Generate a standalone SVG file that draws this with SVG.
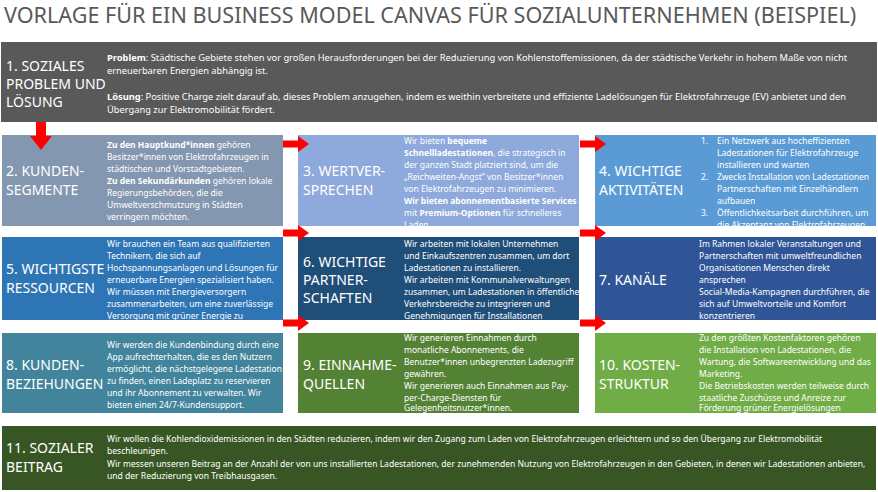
<svg xmlns="http://www.w3.org/2000/svg" width="878" height="492" viewBox="0 0 878 492">
<style>
text{font-family:"Noto Sans","Open Sans","DejaVu Sans",sans-serif;fill:#fff}
.t{font-size:21.6px;fill:#595959}
.l{font-size:14px}
.b{font-size:8.5px}
.h{font-size:9.3px}
.f{font-size:8.55px}
.b tspan.k,.h tspan.k{font-weight:bold}
.arr{fill:#ff0000}
</style>
<defs>
<path id="ra" d="M0,-3.5 H15 V-8 L26,0 L15,8 V3.5 H0 Z"/>
</defs>
<rect width="878" height="492" fill="#fff"/>
<text class="t" x="4" y="23">VORLAGE FÜR EIN BUSINESS MODEL CANVAS FÜR SOZIALUNTERNEHMEN (BEISPIEL)</text>

<g id="n1"><rect x="1" y="42" width="876" height="80" fill="#595959"/>
<text class="l" x="6"><tspan x="6" y="71">1. SOZIALES</tspan><tspan x="6" y="89">PROBLEM UND</tspan><tspan x="6" y="107">LÖSUNG</tspan></text>
<text class="h"><tspan x="107" y="61"><tspan class="k">Problem</tspan>: Städtische Gebiete stehen vor großen Herausforderungen bei der Reduzierung von Kohlenstoffemissionen, da der städtische Verkehr in hohem Maße von nicht</tspan><tspan x="107" y="74">erneuerbaren Energien abhängig ist.</tspan><tspan x="107" y="100"><tspan class="k">Lösung</tspan>: Positive Charge zielt darauf ab, dieses Problem anzugehen, indem es weithin verbreitete und effiziente Ladelösungen für Elektrofahrzeuge (EV) anbietet und den</tspan><tspan x="107" y="113">Übergang zur Elektromobilität fördert.</tspan></text></g>

<g id="n2"><rect x="2" y="135" width="281" height="91" fill="#8497B0"/>
<text class="l"><tspan x="6" y="176">2. KUNDEN-</tspan><tspan x="6" y="195">SEGMENTE</tspan></text>
<text class="b"><tspan x="107" y="148"><tspan class="k">Zu den Hauptkund*innen</tspan> gehören</tspan><tspan x="107" y="160">Besitzer*innen von Elektrofahrzeugen in</tspan><tspan x="107" y="172">städtischen und Vorstadtgebieten.</tspan><tspan x="107" y="184"><tspan class="k">Zu den Sekundärkunden</tspan> gehören lokale</tspan><tspan x="107" y="196">Regierungsbehörden, die die</tspan><tspan x="107" y="208">Umweltverschmutzung in Städten</tspan><tspan x="107" y="220">verringern möchten.</tspan></text></g>

<g id="n3"><rect x="298" y="135" width="281" height="91" fill="#8EA9DB"/>
<text class="l"><tspan x="303" y="176">3. WERTVER-</tspan><tspan x="303" y="195">SPRECHEN</tspan></text>
<text class="b"><tspan x="404" y="144">Wir bieten <tspan class="k">bequeme</tspan></tspan><tspan x="404" y="156" class="k">Schnellladestationen<tspan font-weight="normal">, die strategisch in</tspan></tspan><tspan x="404" y="168">der ganzen Stadt platziert sind, um die</tspan><tspan x="404" y="180">„Reichweiten-Angst“ von Besitzer*innen</tspan><tspan x="404" y="192">von Elektrofahrzeugen zu minimieren.</tspan><tspan x="404" y="204" class="k">Wir bieten abonnementbasierte Services</tspan><tspan x="404" y="216">mit <tspan class="k">Premium-Optionen</tspan> für schnelleres</tspan><tspan x="404" y="228">Laden.</tspan></text></g>

<g id="n4"><rect x="595" y="135" width="281" height="91" fill="#5B9BD5"/>
<text class="l"><tspan x="599" y="176">4. WICHTIGE</tspan><tspan x="599" y="195">AKTIVITÄTEN</tspan></text>
<text class="b"><tspan x="701" y="144">1.</tspan><tspan x="717" y="144">Ein Netzwerk aus hocheffizienten</tspan><tspan x="717" y="156">Ladestationen für Elektrofahrzeuge</tspan><tspan x="717" y="168">installieren und warten</tspan><tspan x="701" y="180">2.</tspan><tspan x="717" y="180">Zwecks Installation von Ladestationen</tspan><tspan x="717" y="192">Partnerschaften mit Einzelhändlern</tspan><tspan x="717" y="204">aufbauen</tspan><tspan x="701" y="216">3.</tspan><tspan x="717" y="216">Öffentlichkeitsarbeit durchführen, um</tspan><tspan x="717" y="228">die Akzeptanz von Elektrofahrzeugen</tspan></text></g>

<g id="n5"><rect x="2" y="237" width="281" height="83" fill="#2E75B6"/>
<text class="l"><tspan x="6" y="274">5. WICHTIGSTE</tspan><tspan x="6" y="293">RESSOURCEN</tspan></text>
<text class="b"><tspan x="107" y="247">Wir brauchen ein Team aus qualifizierten</tspan><tspan x="107" y="259">Technikern, die sich auf</tspan><tspan x="107" y="271">Hochspannungsanlagen und Lösungen für</tspan><tspan x="107" y="283">erneuerbare Energien spezialisiert haben.</tspan><tspan x="107" y="295">Wir müssen mit Energieversorgern</tspan><tspan x="107" y="307">zusammenarbeiten, um eine zuverlässige</tspan><tspan x="107" y="319">Versorgung mit grüner Energie zu</tspan></text></g>

<g id="n6"><rect x="298" y="237" width="281" height="83" fill="#1F4E79"/>
<text class="l"><tspan x="303" y="267">6. WICHTIGE</tspan><tspan x="303" y="285">PARTNER-</tspan><tspan x="303" y="303">SCHAFTEN</tspan></text>
<text class="b"><tspan x="404" y="247">Wir arbeiten mit lokalen Unternehmen</tspan><tspan x="404" y="259">und Einkaufszentren zusammen, um dort</tspan><tspan x="404" y="271">Ladestationen zu installieren.</tspan><tspan x="404" y="283">Wir arbeiten mit Kommunalverwaltungen</tspan><tspan x="404" y="295">zusammen, um Ladestationen in öffentliche</tspan><tspan x="404" y="307">Verkehrsbereiche zu integrieren und</tspan><tspan x="404" y="319">Genehmigungen für Installationen</tspan></text></g>

<g id="n7"><rect x="595" y="237" width="281" height="83" fill="#2F5597"/>
<text class="l"><tspan x="599" y="285">7. KANÄLE</tspan></text>
<text class="b"><tspan x="699" y="247">Im Rahmen lokaler Veranstaltungen und</tspan><tspan x="699" y="259">Partnerschaften mit umweltfreundlichen</tspan><tspan x="699" y="271">Organisationen Menschen direkt</tspan><tspan x="699" y="283">ansprechen</tspan><tspan x="699" y="295">Social-Media-Kampagnen durchführen, die</tspan><tspan x="699" y="307">sich auf Umweltvorteile und Komfort</tspan><tspan x="699" y="319">konzentrieren</tspan></text></g>

<g id="n8"><rect x="2" y="333" width="281" height="80" fill="#41849C"/>
<text class="l"><tspan x="6" y="370">8. KUNDEN-</tspan><tspan x="6" y="389">BEZIEHUNGEN</tspan></text>
<text class="b"><tspan x="107" y="348">Wir werden die Kundenbindung durch eine</tspan><tspan x="107" y="360">App aufrechterhalten, die es den Nutzern</tspan><tspan x="107" y="372">ermöglicht, die nächstgelegene Ladestation</tspan><tspan x="107" y="384">zu finden, einen Ladeplatz zu reservieren</tspan><tspan x="107" y="396">und ihr Abonnement zu verwalten. Wir</tspan><tspan x="107" y="408">bieten einen 24/7-Kundensupport.</tspan></text></g>

<g id="n9"><rect x="298" y="333" width="281" height="80" fill="#548235"/>
<text class="l"><tspan x="303" y="370">9. EINNAHME-</tspan><tspan x="303" y="389">QUELLEN</tspan></text>
<text class="b"><tspan x="404" y="341">Wir generieren Einnahmen durch</tspan><tspan x="404" y="353">monatliche Abonnements, die</tspan><tspan x="404" y="365">Benutzer*innen unbegrenzten Ladezugriff</tspan><tspan x="404" y="377">gewähren.</tspan><tspan x="404" y="389">Wir generieren auch Einnahmen aus Pay-</tspan><tspan x="404" y="401">per-Charge-Diensten für</tspan><tspan x="404" y="411">Gelegenheitsnutzer*innen.</tspan></text></g>

<g id="n10"><rect x="595" y="333" width="281" height="80" fill="#70AD47"/>
<text class="l"><tspan x="599" y="370">10. KOSTEN-</tspan><tspan x="599" y="389">STRUKTUR</tspan></text>
<text class="b"><tspan x="699" y="341">Zu den größten Kostenfaktoren gehören</tspan><tspan x="699" y="353">die Installation von Ladestationen, die</tspan><tspan x="699" y="365">Wartung, die Softwareentwicklung und das</tspan><tspan x="699" y="377">Marketing.</tspan><tspan x="699" y="389">Die Betriebskosten werden teilweise durch</tspan><tspan x="699" y="401">staatliche Zuschüsse und Anreize zur</tspan><tspan x="699" y="411">Förderung grüner Energielösungen</tspan></text></g>

<g id="n11"><rect x="2" y="426" width="874" height="64" fill="#375623"/>
<text class="l"><tspan x="6" y="453">11. SOZIALER</tspan><tspan x="6" y="472">BEITRAG</tspan></text>
<text class="f"><tspan x="107" y="442">Wir wollen die Kohlendioxidemissionen in den Städten reduzieren, indem wir den Zugang zum Laden von Elektrofahrzeugen erleichtern und so den Übergang zur Elektromobilität</tspan><tspan x="107" y="454">beschleunigen.</tspan><tspan x="107" y="467">Wir messen unseren Beitrag an der Anzahl der von uns installierten Ladestationen, der zunehmenden Nutzung von Elektrofahrzeugen in den Gebieten, in denen wir Ladestationen anbieten,</tspan><tspan x="107" y="479">und der Reduzierung von Treibhausgasen.</tspan></text></g>

<g id="connectors" class="arr">
<path d="M36,122 H46 V136 H52 L41,150 L30,136 H36 Z"/>
<use href="#ra" x="283" y="144"/>
<use href="#ra" x="283" y="233"/>
<use href="#ra" x="283" y="323"/>
<use href="#ra" x="580" y="144"/>
<use href="#ra" x="580" y="233"/>
<use href="#ra" x="580" y="323"/>
</g>
</svg>
